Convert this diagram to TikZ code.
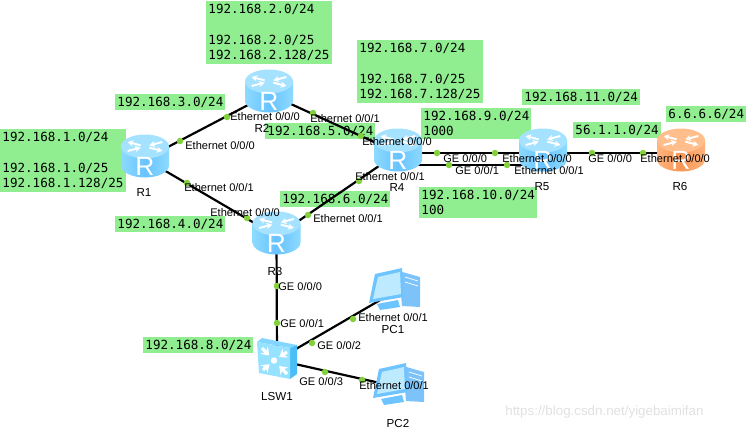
\documentclass[tikz,border=0pt]{standalone}
\usepackage{fontspec}
\setmainfont{Liberation Sans}
\newfontfamily\netfont{DejaVu Sans Mono}
\usepackage{xcolor}
\definecolor{netgreen}{RGB}{144,238,144}
\definecolor{portgreen}{RGB}{130,208,60}
\definecolor{rtblue}{RGB}{105,195,255}
\definecolor{rtbluetop}{RGB}{165,226,255}
\definecolor{rtbluelight}{RGB}{140,218,255}
\definecolor{rtorange}{RGB}{248,150,85}
\definecolor{rtorangetop}{RGB}{255,190,140}
\definecolor{rtorangelight}{RGB}{255,180,125}
\definecolor{swfront}{RGB}{150,226,255}
\definecolor{swside}{RGB}{75,190,248}
\definecolor{swtop}{RGB}{130,214,255}
\definecolor{pcbody}{RGB}{110,196,255}
\definecolor{pcscreen}{RGB}{190,234,255}
\definecolor{pctower}{RGB}{125,195,250}
\usetikzlibrary{arrows.meta, calc}
\tikzset{
  devbox/.style={circle, inner sep=0pt, minimum size=0.5cm},
  netbox/.style={fill=netgreen, anchor=north west, align=left, inner xsep=1.2pt, inner ysep=1.6pt,
    font=\netfont\fontsize{7.15}{8.8}\selectfont},
  link/.style={draw=black, line width=1.25pt},
  portdot/.style={circle, fill=portgreen, inner sep=0pt, minimum size=0.13cm},
  portlabel/.style={anchor=west, inner sep=0pt, font=\fontsize{6.3}{7}\selectfont},
  devlabel/.style={inner sep=0pt, font=\fontsize{6.6}{7}\selectfont},
  routericon/.pic={
    \path[left color=#1light, right color=#1light, middle color=#1]
      (-24,-12.5) -- (-24,6.5) arc[start angle=180, end angle=0, x radius=24, y radius=12] -- (24,-12.5) -- cycle;
    \fill[#1top] (0,-12.5) ellipse[x radius=24, y radius=12];
    \begin{scope}[shift={(0,-12.5)}, yscale=0.45]
      \foreach \ang/\rin/\rout in {30/5/20, 150/20/5, 210/5/20, 330/20/5}
        \draw[white, line width=1.1pt, -{Stealth[length=3.2pt, width=3.6pt]}] (\ang:\rin) -- (\ang:\rout);
    \end{scope}
    \node[white, inner sep=0pt, font=\fontsize{15}{16}\selectfont] (-letter) at (0,7.5) {R};
  },
  switchicon/.pic={
    \fill[swtop] (-20,-18) -- (-15,-22) -- (20,-15) -- (13,-12) -- cycle;
    \fill[swside] (13,-12) -- (20,-15) -- (20,14) -- (13,19) -- cycle;
    \fill[swfront] (-20,-18) -- (13,-12) -- (13,19) -- (-18,13) -- cycle;
    \fill[white] (-3,0.5) circle[radius=3.2];
    \foreach \sx/\sy in {-15/-12, 10/-8, -14/10, 10/14}
      \draw[white, line width=1.8pt, -{Stealth[length=4.2pt, width=6pt]}] (\sx,\sy) -- ($(\sx,\sy)!0.6!(-3,0.5)$);
  },
  pcicon/.pic={
    \fill[pctower] (5,-21) -- (26,-15) -- (26,15) -- (8,14) -- cycle;
    \draw[white, line width=0.4pt] (11,-15) -- (24,-11) (11,-10) -- (24,-6);
    \fill[pcbody] (-17,12) -- (4,8) -- (6,15) -- (-14,18) -- cycle;
    \fill[pcbody] (-19,-18) -- (8,-24) -- (10,5) -- (-25,11) -- cycle;
    \fill[pcscreen] (-16,-15) -- (6,-20) -- (7,2) -- (-21,7) -- cycle;
  },
}

\begin{document}
\begin{tikzpicture}[x=0.02cm, y=-0.02cm]
  \useasboundingbox (0,0) rectangle (750,430);

  % Devices
  \node[devbox] (R1) at (145,159) {};
  \node[devbox] (R2) at (269,94) {};
  \node[devbox] (R3) at (276.5,236) {};
  \node[devbox] (R4) at (398,153) {};
  \node[devbox] (R5) at (543,153) {};
  \node[devbox] (R6) at (681,153) {};
  \node[devbox] (LSW1) at (277,360) {};
  \node[devbox] (PC1) at (394,292) {};
  \node[devbox] (PC2) at (398,387) {};

  % Network labels
  \node[netbox] (net2) at (206,1) {192.168.2.0/24\\~\\192.168.2.0/25\\192.168.2.128/25};
  \node[netbox] (net3) at (115,94) {192.168.3.0/24};
  \node[netbox] (net1) at (0,129) {192.168.1.0/24\\~\\192.168.1.0/25\\192.168.1.128/25};
  \node[netbox] (net5) at (265,123) {192.168.5.0/24};
  \node[netbox] (net6) at (280,191) {192.168.6.0/24};
  \node[netbox] (net4) at (115,216) {192.168.4.0/24};
  \node[netbox] (net7) at (357,40) {192.168.7.0/24\\~\\192.168.7.0/25\\192.168.7.128/25};
  \node[netbox] (net9) at (421,108) {192.168.9.0/24\\1000};
  \node[netbox] (net11) at (522,89) {192.168.11.0/24};
  \node[netbox] (net56) at (573,122) {56.1.1.0/24};
  \node[netbox] (net66) at (666,106) {6.6.6.6/24};
  \node[netbox] (net10) at (419,187) {192.168.10.0/24\\100};
  \node[netbox] (net8) at (143,337) {192.168.8.0/24};

  % Links
  \draw[link] (R1) -- (R2);
  \draw[link] (R1) -- (R3);
  \draw[link] (R2) -- (R4);
  \draw[link] (R3) -- (R4);
  \draw[link] (R3) -- (LSW1);
  \draw[link] (LSW1) -- (PC1);
  \draw[link] (LSW1) -- (PC2);
  \draw[link] (R4) -- (R5);
  \draw[link] ($(R4)+(0,12)$) -- ($(R5)+(0,12)$);
  \draw[link] (R5) -- (R6);

  % Icons
  \pic (R1i) at (R1) {routericon=rtblue};
  \pic (R2i) at (R2) {routericon=rtblue};
  \pic (R3i) at (R3) {routericon=rtblue};
  \pic (R4i) at (R4) {routericon=rtblue};
  \pic (R5i) at (R5) {routericon=rtblue};
  \pic (R6i) at (R6) {routericon=rtorange};
  \pic (LSW1i) at (LSW1) {switchicon};
  \pic (PC1i) at (PC1) {pcicon};
  \pic (PC2i) at (PC2) {pcicon};

  % Port dots
  \foreach \px/\py [count=\i] in {180/141, 227/117, 187/183, 247/218, 313/113, 361/136, 308/215, 359/181,
      277/286, 277/323, 312/343, 353/319, 325/372, 362/380,
      437/153, 495/153, 449/165, 507/165, 592/153, 643/153}
    \node[portdot] (dot\i) at (\px,\py) {};

  % Port labels
  \node[portlabel] (p1) at (185,146) {Ethernet 0/0/0};
  \node[portlabel] (p2) at (230,117) {Ethernet 0/0/0};
  \node[portlabel] (p3) at (310,119) {Ethernet 0/0/1};
  \node[portlabel] (p4) at (362,142) {Ethernet 0/0/0};
  \node[portlabel] (p5) at (184,188) {Ethernet 0/0/1};
  \node[portlabel] (p6) at (210,213) {Ethernet 0/0/0};
  \node[portlabel] (p7) at (313,219) {Ethernet 0/0/1};
  \node[portlabel] (p8) at (355,177) {Ethernet 0/0/1};
  \node[portlabel] (p9) at (443,159) {GE 0/0/0};
  \node[portlabel] (p10) at (502,159) {Ethernet 0/0/0};
  \node[portlabel] (p11) at (455,171) {GE 0/0/1};
  \node[portlabel] (p12) at (514,171) {Ethernet 0/0/1};
  \node[portlabel] (p13) at (588,159) {GE 0/0/0};
  \node[portlabel] (p14) at (640,159) {Ethernet 0/0/0};
  \node[portlabel] (p15) at (278,287) {GE 0/0/0};
  \node[portlabel] (p16) at (280,324) {GE 0/0/1};
  \node[portlabel] (p17) at (317,346) {GE 0/0/2};
  \node[portlabel] (p18) at (299,382) {GE 0/0/3};
  \node[portlabel] (p19) at (358,318) {Ethernet 0/0/1};
  \node[portlabel] (p20) at (359,386) {Ethernet 0/0/1};

  % Device names
  \node[devlabel] (nR1) at (144,193) {R1};
  \node[devlabel] (nR2) at (262,128) {R2};
  \node[devlabel] (nR3) at (275,271) {R3};
  \node[devlabel] (nR4) at (397,188) {R4};
  \node[devlabel] (nR5) at (542,187) {R5};
  \node[devlabel] (nR6) at (680,187) {R6};
  \node[devlabel] (nLSW1) at (277,396) {LSW1};
  \node[devlabel] (nPC1) at (393,329) {PC1};
  \node[devlabel] (nPC2) at (398,423) {PC2};

  % Watermark
  \node[anchor=west, inner sep=0pt, black!12, font=\fontsize{7.6}{8}\selectfont] (mark) at (505,412) {https://blog.csdn.net/yigebaimifan};
\end{tikzpicture}
\end{document}
